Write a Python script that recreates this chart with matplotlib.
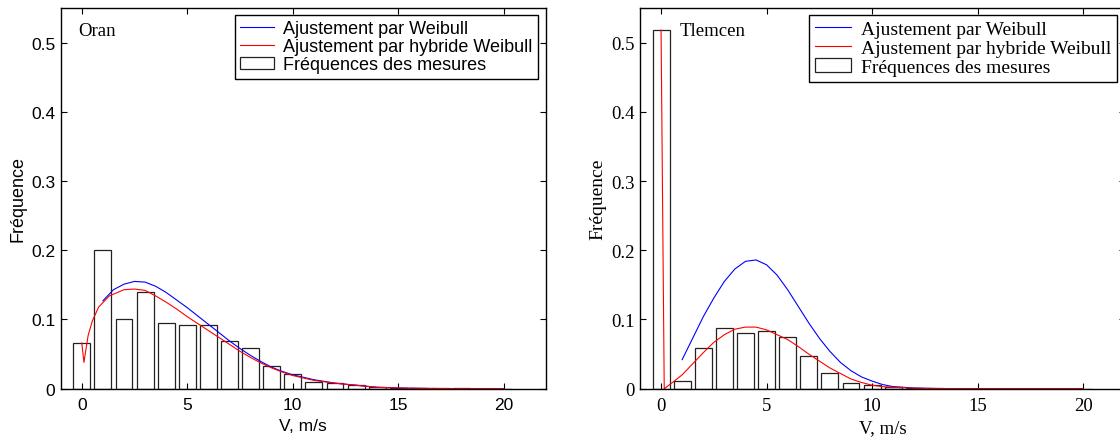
import matplotlib.pyplot as plt

# wind speed classes (m/s) and measured frequencies
classes = list(range(0, 21))
freq_oran = [0.066, 0.201, 0.100, 0.139, 0.095, 0.092, 0.092, 0.069, 0.059, 0.033, 0.021,
             0.010, 0.008, 0.006, 0.0024, 0.0015, 0.001, 0.0005, 0.0015, 0.0, 0.0]
freq_tlemcen = [0.518, 0.011, 0.059, 0.087, 0.081, 0.083, 0.074, 0.047, 0.023, 0.008, 0.005,
                0.002, 0.001, 0.0015, 0.0, 0.0, 0.0, 0.0, 0.0, 0.0, 0.0]

# Oran - fitted curves
v_wb_oran = [1, 1.5, 2, 2.5, 3, 3.5, 4, 4.5, 5, 5.5, 6, 6.5, 7, 7.5, 8, 8.5, 9, 9.5, 10,
             11, 12, 13, 14, 15, 16, 17, 18, 19, 20]
wb_oran = [0.127, 0.143, 0.151, 0.155, 0.154, 0.148, 0.139, 0.128, 0.117, 0.105, 0.093,
           0.081, 0.069, 0.058, 0.048, 0.039, 0.031, 0.025, 0.020, 0.013, 0.008, 0.005,
           0.002, 0.001, 0.0005, 0.0002, 0.0, 0.0, 0.0]
v_hyb_oran = [0, 0.1, 0.3, 0.5, 0.8, 1.3, 2, 2.5, 3, 3.5, 4, 4.5, 5, 5.5, 6, 6.5, 7, 7.5,
              8, 8.5, 9, 9.5, 10, 11, 12, 13, 14, 15, 16, 17, 18, 19, 20]
hyb_oran = [0.066, 0.038, 0.077, 0.098, 0.118, 0.134, 0.143, 0.144, 0.142, 0.134, 0.125,
            0.115, 0.104, 0.094, 0.084, 0.074, 0.064, 0.054, 0.045, 0.037, 0.030, 0.024,
            0.019, 0.012, 0.008, 0.005, 0.002, 0.001, 0.0005, 0.0002, 0.0, 0.0, 0.0]

# Tlemcen - fitted curves
v_wb_tlem = [1, 1.5, 2, 2.5, 3, 3.5, 4, 4.5, 5, 5.5, 6, 6.5, 7, 7.5, 8, 8.5, 9, 9.5, 10,
             10.5, 11, 12, 13, 14, 15, 16, 17, 18, 19, 20]
wb_tlem = [0.042, 0.073, 0.104, 0.131, 0.155, 0.173, 0.184, 0.186, 0.179, 0.164, 0.143,
           0.119, 0.095, 0.073, 0.054, 0.038, 0.026, 0.017, 0.011, 0.006, 0.003, 0.001,
           0.0003, 0.0, 0.0, 0.0, 0.0, 0.0, 0.0, 0.0]
v_hyb_tlem = [0, 0.15, 0.5, 1, 1.5, 2, 2.5, 3, 3.5, 4, 4.5, 5, 5.5, 6, 6.5, 7, 7.5, 8,
              8.5, 9, 9.5, 10, 10.5, 11, 12, 13, 14, 15, 16, 17, 18, 19, 20]
hyb_tlem = [0.518, 0.0, 0.008, 0.020, 0.036, 0.052, 0.067, 0.078, 0.086, 0.089, 0.089,
            0.085, 0.078, 0.071, 0.061, 0.050, 0.040, 0.030, 0.022, 0.014, 0.009, 0.005,
            0.003, 0.002, 0.0007, 0.0002, 0.0, 0.0, 0.0, 0.0, 0.0, 0.0, 0.0]

labels = ['Ajustement par Weibull', 'Ajustement par hybride Weibull', 'Fréquences des mesures']


def draw_panel(ax, freq, v_wb, wb, v_hyb, hyb, station, family, fs, leg_fs, station_x):
    bars = ax.bar(classes, freq, width=0.8, color='white', edgecolor='#222222', linewidth=0.9)
    l1, = ax.plot(v_wb, wb, color='blue', lw=0.8)
    l2, = ax.plot(v_hyb, hyb, color='red', lw=0.8)

    ax.set_xlim(-1, 22)
    ax.set_ylim(0, 0.55)
    ax.set_xticks([0, 5, 10, 15, 20])
    ax.set_yticks([0, 0.1, 0.2, 0.3, 0.4, 0.5])
    ax.set_yticklabels(['0', '0.1', '0.2', '0.3', '0.4', '0.5'])
    ax.tick_params(direction='in', top=True, right=True, length=4, width=0.8,
                   labelsize=fs, pad=4)
    ax.tick_params(axis='x', pad=6)
    for lab in ax.get_xticklabels() + ax.get_yticklabels():
        lab.set_family(family)
    for sp in ax.spines.values():
        sp.set_linewidth(1.0)

    ax.set_xlabel('V, m/s', fontsize=fs, family=family, labelpad=4)
    ax.set_ylabel('Fréquence', fontsize=fs + 0.5, family=family, labelpad=3)
    ax.text(station_x, 0.94, station, transform=ax.transAxes,
            family='Liberation Serif', fontsize=13.5, va='center')

    leg = ax.legend([l1, l2, bars], labels, loc='upper right', bbox_to_anchor=(0.9835, 0.9824),
                    borderaxespad=0, fancybox=False, framealpha=1, edgecolor='black',
                    prop={'family': family, 'size': leg_fs}, handlelength=1.85,
                    handletextpad=0.52, labelspacing=0.06, borderpad=0.3)
    leg.get_frame().set_linewidth(1.0)


fig = plt.figure(figsize=(11.2, 4.39), dpi=100)
ax1 = fig.add_axes([0.0542, 0.1123, 0.4333, 0.8672])
ax2 = fig.add_axes([0.5714, 0.1123, 0.4333, 0.8672])

draw_panel(ax1, freq_oran, v_wb_oran, wb_oran, v_hyb_oran, hyb_oran,
           'Oran', 'Liberation Sans', 12.5, 13.0, 0.037)
draw_panel(ax2, freq_tlemcen, v_wb_tlem, wb_tlem, v_hyb_tlem, hyb_tlem,
           'Tlemcen', 'Liberation Serif', 13.5, 14.0, 0.082)

fig.savefig('out.png', dpi=100)
